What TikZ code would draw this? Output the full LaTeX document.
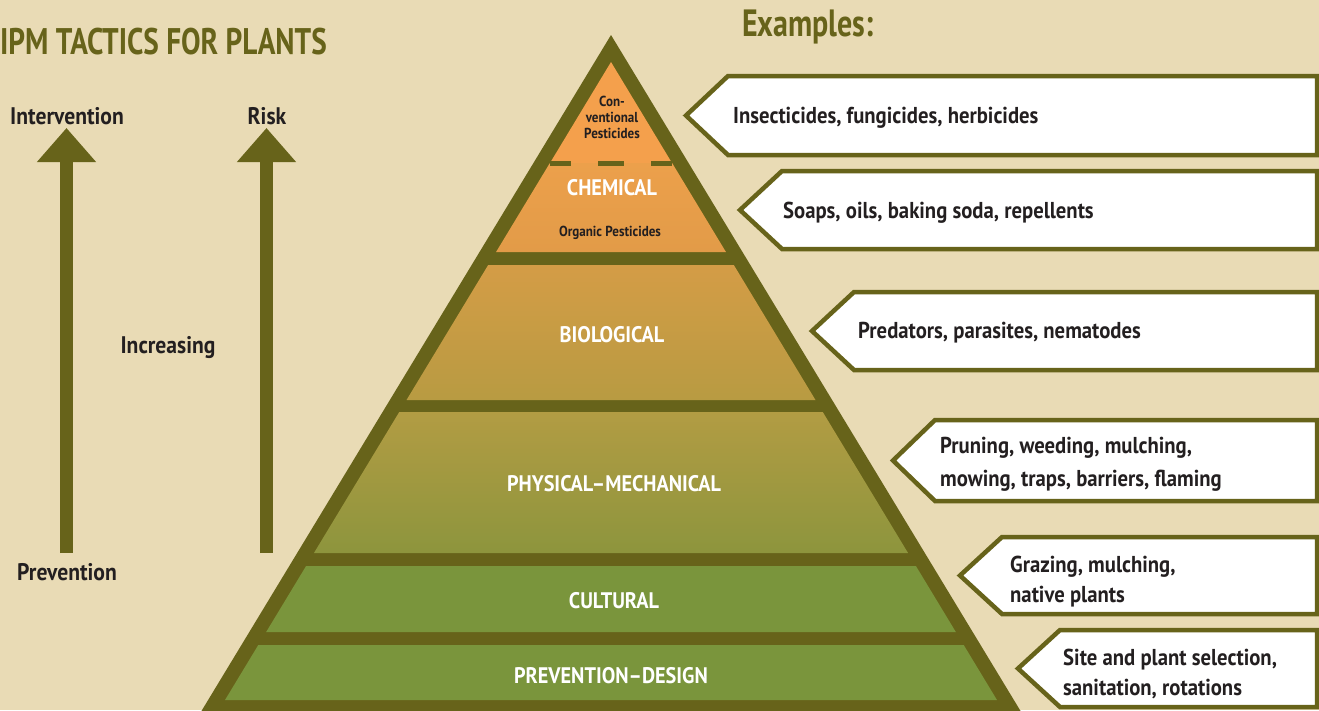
\documentclass[tikz,border=0pt]{standalone}
\usepackage{fontspec}
\newfontfamily\gill{PT Sans}[FakeStretch=0.9]
\newfontfamily\gillnarrow{PT Sans}[FakeStretch=0.79]
\usetikzlibrary{arrows.meta}

\definecolor{bgbeige}{HTML}{E9DBB5}
\definecolor{olivebar}{HTML}{67631A}
\definecolor{inkdark}{HTML}{231F20}
\definecolor{convA}{HTML}{F4A04C}
\definecolor{chemA}{HTML}{ECA04B}
\definecolor{chemB}{HTML}{E29B48}
\definecolor{bioA}{HTML}{D49C46}
\definecolor{bioB}{HTML}{B89B42}
\definecolor{physA}{HTML}{B29C43}
\definecolor{physB}{HTML}{8D953D}
\definecolor{cultA}{HTML}{7A953C}

\tikzset{
  headline/.style={font=\gillnarrow\bfseries\fontsize{38}{40}\selectfont, text=olivebar, inner sep=0pt},
  sidelabel/.style={font=\gill\bfseries\fontsize{24}{26}\selectfont, text=inkdark, inner sep=0pt},
  layerlabel/.style={font=\gill\bfseries\fontsize{22.5}{25}\selectfont, text=white, inner sep=0pt},
  smalllabel/.style={font=\gill\bfseries\fontsize{14.5}{16}\selectfont, text=inkdark, inner sep=0pt},
  extext/.style={font=\gill\bfseries\fontsize{23}{30}\selectfont, text=inkdark, inner sep=0pt, anchor=west, align=left},
  exbox/.style={draw=olivebar, line width=4.5pt, fill=white, line join=miter},
  uparrow/.style={olivebar, line width=13pt, -{Triangle[length=34pt,width=57pt]}}
}

% pointed box for the examples: tip x, top y, bottom y
\newcommand{\examplebox}[3]{%
  \draw[exbox] (#1,{(#2+#3)/2}) -- (#1+42,#2) -- (1317,#2) -- (1317,#3) -- (#1+42,#3) -- cycle;
}

\begin{document}
\begin{tikzpicture}[x=1pt,y=-1pt]
  \useasboundingbox (0,0) rectangle (1319,710);
  \fill[bgbeige] (0,0) rectangle (1319,710);

  % titles
  \node[headline, anchor=east, font=\gillnarrow\bfseries\fontsize{37}{40}\selectfont] (title) at (327,42) {IPM TACTICS FOR PLANTS};
  \node[headline, anchor=west] (examples) at (742,27) {Examples:};

  % intervention / risk arrows
  \node[sidelabel] (interv) at (67,116) {Intervention};
  \node[sidelabel] (risk) at (267,116) {Risk};
  \node[sidelabel] (incr) at (168,348) {Increasing};
  \node[sidelabel] (prev) at (67,572) {Prevention};
  \coordinate (ibot) at (66.5,553);
  \coordinate (itop) at (66.5,128);
  \coordinate (rbot) at (266.5,553);
  \coordinate (rtop) at (266.5,128);
  \draw[uparrow] (ibot) -- (itop);
  \draw[uparrow] (rbot) -- (rtop);

  % pyramid
  \fill[olivebar] (611,35) -- (196,720) -- (1026,720) -- cycle;
  \fill[convA] (611,62) -- (672,163) -- (550,163) -- cycle;
  \foreach \ya/\yb/\ca/\cb in {163/252/chemA/chemB, 265/400/bioA/bioB,
      412/553/physA/physB, 566/632/cultA/cultA, 645/700/cultA/cultA} {
    \pgfmathsetmacro\wa{0.605*(\ya-62)}
    \pgfmathsetmacro\wb{0.605*(\yb-62)}
    \shade[top color=\ca, bottom color=\cb]
      (611-\wa,\ya) -- (611+\wa,\ya) -- (611+\wb,\yb) -- (611-\wb,\yb) -- cycle;
  }
  \draw[olivebar, line width=5pt, dash pattern=on 21pt off 27pt on 26pt off 27pt]
    (550,163.5) -- (672,163.5);

  \node[smalllabel, align=center] (conv) at (612,117) {Con-\\ventional\\Pesticides};
  \node[layerlabel] (chem) at (612,188) {CHEMICAL};
  \node[smalllabel] (organic) at (610,233) {Organic Pesticides};
  \node[layerlabel] (bio) at (612,335) {BIOLOGICAL};
  \node[layerlabel] (phys) at (614,484) {PHYSICAL–MECHANICAL};
  \node[layerlabel] (cult) at (614,601) {CULTURAL};
  \node[layerlabel] (design) at (611,676) {PREVENTION–DESIGN};

  % examples
  \examplebox{686}{76}{155}
  \examplebox{740}{171}{249}
  \examplebox{812}{292}{370}
  \examplebox{893}{420}{501}
  \examplebox{960}{537}{614}
  \examplebox{1018}{630}{707}
  \node[extext] (ex1) at (733,118) {Insecticides, fungicides, herbicides};
  \node[extext] (ex2) at (783,213) {Soaps, oils, baking soda, repellents};
  \node[extext] (ex3) at (858,333) {Predators, parasites, nematodes};
  \node[extext] (ex4) at (940,464) {Pruning, weeding, mulching,\\[3pt]mowing, traps, barriers, flaming};
  \node[extext] (ex5) at (1010,582) {Grazing, mulching,\\native plants};
  \node[extext] (ex6) at (1063,674) {Site and plant selection,\\sanitation, rotations};
\end{tikzpicture}
\end{document}
